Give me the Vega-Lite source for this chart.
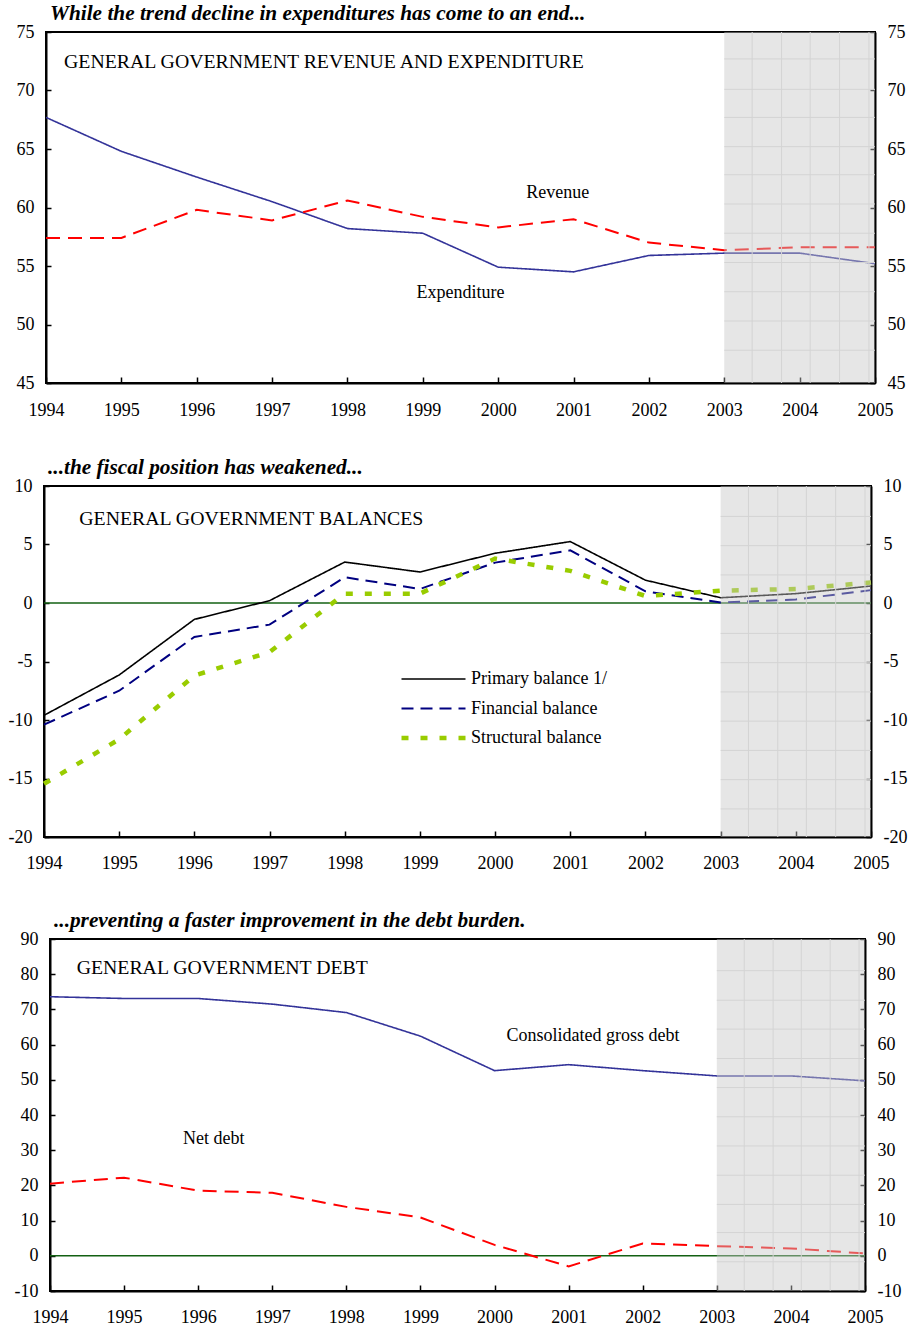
{
  "$schema": "https://vega.github.io/schema/vega-lite/v6.json",
  "padding": {"left": 7, "top": 1, "right": 3, "bottom": 0},
  "spacing": 35,
  "center": true,
  "resolve": {"scale": {"color": "independent", "strokeDash": "independent", "strokeWidth": "independent"}, "legend": {"color": "independent", "strokeDash": "independent", "strokeWidth": "independent"}},
  "config": {
    "font": "Liberation Serif",
    "view": {"stroke": "#000", "strokeWidth": 2},
    "axis": {"labelFont": "Liberation Serif", "labelFontSize": 18, "labelColor": "#000", "domainColor": "#000", "domainWidth": 2, "tickColor": "#000", "tickWidth": 1.5, "grid": false, "labelOverlap": false, "labelFlush": false, "labelExpr": "'' + datum.value"},
    "title": {"font": "Liberation Serif", "fontSize": 21.3, "fontStyle": "italic", "fontWeight": "bold", "color": "#000", "anchor": "start", "frame": "group", "dx": 4, "offset": -1},
    "text": {"font": "Liberation Serif", "fontSize": 18, "color": "#000"}
  },
  "datasets": {
    "one": [{}],
    "p1": [
      {"series": "Expenditure", "year": 1994, "value": 67.7},
      {"series": "Expenditure", "year": 1995, "value": 64.8},
      {"series": "Expenditure", "year": 1996, "value": 62.6},
      {"series": "Expenditure", "year": 1997, "value": 60.5},
      {"series": "Expenditure", "year": 1998, "value": 58.2},
      {"series": "Expenditure", "year": 1999, "value": 57.8},
      {"series": "Expenditure", "year": 2000, "value": 54.9},
      {"series": "Expenditure", "year": 2001, "value": 54.5},
      {"series": "Expenditure", "year": 2002, "value": 55.9},
      {"series": "Expenditure", "year": 2003, "value": 56.1},
      {"series": "Expenditure", "year": 2004, "value": 56.1},
      {"series": "Expenditure", "year": 2005, "value": 55.2},
      {"series": "Revenue", "year": 1994, "value": 57.4},
      {"series": "Revenue", "year": 1995, "value": 57.4},
      {"series": "Revenue", "year": 1996, "value": 59.8},
      {"series": "Revenue", "year": 1997, "value": 58.9},
      {"series": "Revenue", "year": 1998, "value": 60.6},
      {"series": "Revenue", "year": 1999, "value": 59.2},
      {"series": "Revenue", "year": 2000, "value": 58.3},
      {"series": "Revenue", "year": 2001, "value": 59.0},
      {"series": "Revenue", "year": 2002, "value": 57.0},
      {"series": "Revenue", "year": 2003, "value": 56.35},
      {"series": "Revenue", "year": 2004, "value": 56.6},
      {"series": "Revenue", "year": 2005, "value": 56.6}
    ],
    "p2": [
      {"series": "Primary balance 1/", "year": 1994, "value": -9.6},
      {"series": "Primary balance 1/", "year": 1995, "value": -6.15},
      {"series": "Primary balance 1/", "year": 1996, "value": -1.4},
      {"series": "Primary balance 1/", "year": 1997, "value": 0.2},
      {"series": "Primary balance 1/", "year": 1998, "value": 3.5},
      {"series": "Primary balance 1/", "year": 1999, "value": 2.65},
      {"series": "Primary balance 1/", "year": 2000, "value": 4.25},
      {"series": "Primary balance 1/", "year": 2001, "value": 5.25},
      {"series": "Primary balance 1/", "year": 2002, "value": 1.95},
      {"series": "Primary balance 1/", "year": 2003, "value": 0.45},
      {"series": "Primary balance 1/", "year": 2004, "value": 0.8},
      {"series": "Primary balance 1/", "year": 2005, "value": 1.45},
      {"series": "Financial balance", "year": 1994, "value": -10.4},
      {"series": "Financial balance", "year": 1995, "value": -7.5},
      {"series": "Financial balance", "year": 1996, "value": -2.9},
      {"series": "Financial balance", "year": 1997, "value": -1.85},
      {"series": "Financial balance", "year": 1998, "value": 2.2},
      {"series": "Financial balance", "year": 1999, "value": 1.2},
      {"series": "Financial balance", "year": 2000, "value": 3.45},
      {"series": "Financial balance", "year": 2001, "value": 4.5},
      {"series": "Financial balance", "year": 2002, "value": 1.0},
      {"series": "Financial balance", "year": 2003, "value": 0.05},
      {"series": "Financial balance", "year": 2004, "value": 0.3},
      {"series": "Financial balance", "year": 2005, "value": 1.1},
      {"series": "Structural balance", "year": 1994, "value": -15.45},
      {"series": "Structural balance", "year": 1995, "value": -11.65},
      {"series": "Structural balance", "year": 1996, "value": -6.2},
      {"series": "Structural balance", "year": 1997, "value": -4.2},
      {"series": "Structural balance", "year": 1998, "value": 0.8},
      {"series": "Structural balance", "year": 1999, "value": 0.8},
      {"series": "Structural balance", "year": 2000, "value": 3.8},
      {"series": "Structural balance", "year": 2001, "value": 2.75},
      {"series": "Structural balance", "year": 2002, "value": 0.6},
      {"series": "Structural balance", "year": 2003, "value": 1.05},
      {"series": "Structural balance", "year": 2004, "value": 1.2},
      {"series": "Structural balance", "year": 2005, "value": 1.75}
    ],
    "p3": [
      {"series": "Consolidated gross debt", "year": 1994, "value": 73.6},
      {"series": "Consolidated gross debt", "year": 1995, "value": 73.1},
      {"series": "Consolidated gross debt", "year": 1996, "value": 73.1},
      {"series": "Consolidated gross debt", "year": 1997, "value": 71.5},
      {"series": "Consolidated gross debt", "year": 1998, "value": 69.1},
      {"series": "Consolidated gross debt", "year": 1999, "value": 62.4},
      {"series": "Consolidated gross debt", "year": 2000, "value": 52.6},
      {"series": "Consolidated gross debt", "year": 2001, "value": 54.3},
      {"series": "Consolidated gross debt", "year": 2002, "value": 52.6},
      {"series": "Consolidated gross debt", "year": 2003, "value": 51.1},
      {"series": "Consolidated gross debt", "year": 2004, "value": 51.1},
      {"series": "Consolidated gross debt", "year": 2005, "value": 49.7},
      {"series": "Net debt", "year": 1994, "value": 20.5},
      {"series": "Net debt", "year": 1995, "value": 22.2},
      {"series": "Net debt", "year": 1996, "value": 18.5},
      {"series": "Net debt", "year": 1997, "value": 17.9},
      {"series": "Net debt", "year": 1998, "value": 13.9},
      {"series": "Net debt", "year": 1999, "value": 10.9},
      {"series": "Net debt", "year": 2000, "value": 3.1},
      {"series": "Net debt", "year": 2001, "value": -3.0},
      {"series": "Net debt", "year": 2002, "value": 3.5},
      {"series": "Net debt", "year": 2003, "value": 2.75},
      {"series": "Net debt", "year": 2004, "value": 2.1},
      {"series": "Net debt", "year": 2005, "value": 0.65}
    ],
    "g1": [{"v": 47.8}, {"v": 50.3}, {"v": 52.8}, {"v": 55.3}, {"v": 57.8}, {"v": 60.3}, {"v": 62.8}, {"v": 65.2}, {"v": 67.7}, {"v": 70.1}, {"v": 72.7}],
    "g2": [{"v": 7.4}, {"v": 4.9}, {"v": 2.4}, {"v": -2.6}, {"v": -5.1}, {"v": -7.6}, {"v": -10.1}, {"v": -12.6}, {"v": -15.1}, {"v": -17.6}],
    "g3": [{"v": -1.7}, {"v": 6.6}, {"v": 14.6}, {"v": 22.9}, {"v": 31.2}, {"v": 39.5}, {"v": 47.8}, {"v": 56.05}, {"v": 64.4}, {"v": 72.6}, {"v": 81}],
    "vg": [{"yr": 2003.37}, {"yr": 2003.76}, {"yr": 2004.14}, {"yr": 2004.53}, {"yr": 2004.92}]
  },
  "vconcat": [
    {
      "width": 829, "height": 351,
      "title": {"text": "While the trend decline in expenditures has come to an end..."},
      "resolve": {"scale": {"y": "shared"}, "axis": {"y": "independent"}},
      "layer": [
        {
          "data": {"name": "p1"},
          "mark": {"type": "line"},
          "encoding": {
            "x": {"field": "year", "type": "quantitative", "scale": {"domain": [1994, 2005], "nice": false, "zero": false}, "axis": {"title": null, "values": [1994,1995,1996,1997,1998,1999,2000,2001,2002,2003,2004,2005], "tickSize": -6, "labelPadding": 24}},
            "y": {"field": "value", "type": "quantitative", "scale": {"domain": [45, 75], "nice": false, "zero": false}, "axis": {"title": null, "orient": "left", "values": [45,50,55,60,65,70,75], "tickSize": -5, "labelPadding": 17}},
            "color": {"field": "series", "type": "nominal", "scale": {"domain": ["Expenditure", "Revenue"], "range": ["#333399", "#ff0000"]}, "legend": null},
            "strokeDash": {"field": "series", "type": "nominal", "scale": {"domain": ["Expenditure", "Revenue"], "range": [[1, 0], [14, 8]]}, "legend": null},
            "strokeWidth": {"field": "series", "type": "nominal", "scale": {"type": "ordinal", "domain": ["Expenditure", "Revenue"], "range": [1.6, 2]}, "legend": null}
          }
        },
        {
          "data": {"name": "one"},
          "mark": {"type": "text", "align": "left", "baseline": "middle", "fontSize": 19.8, "text": "GENERAL GOVERNMENT REVENUE AND EXPENDITURE"},
          "encoding": {"x": {"datum": 1994.24, "type": "quantitative"}, "y": {"datum": 72.44, "type": "quantitative", "axis": null}}
        },
        {
          "data": {"name": "one"},
          "mark": {"type": "text", "align": "center", "baseline": "middle", "text": "Revenue"},
          "encoding": {"x": {"datum": 2000.79, "type": "quantitative"}, "y": {"datum": 61.24, "type": "quantitative", "axis": null}}
        },
        {
          "data": {"name": "one"},
          "mark": {"type": "text", "align": "center", "baseline": "middle", "text": "Expenditure"},
          "encoding": {"x": {"datum": 1999.5, "type": "quantitative"}, "y": {"datum": 52.7, "type": "quantitative", "axis": null}}
        },
        {
          "data": {"name": "one"},
          "mark": {"type": "rect", "fill": "#c8c8c8", "opacity": 0.45},
          "encoding": {"x": {"datum": 2003, "type": "quantitative"}, "x2": {"datum": 2005}, "y": {"datum": 45, "type": "quantitative", "axis": null}, "y2": {"datum": 75}}
        },
        {
          "data": {"name": "g1"},
          "mark": {"type": "rule", "color": "#d4d4d4", "strokeWidth": 1},
          "encoding": {"x": {"datum": 2003, "type": "quantitative"}, "x2": {"datum": 2005}, "y": {"field": "v", "type": "quantitative", "axis": null}}
        },
        {
          "data": {"name": "vg"},
          "mark": {"type": "rule", "color": "#d4d4d4", "strokeWidth": 1},
          "encoding": {"x": {"field": "yr", "type": "quantitative"}, "y": {"datum": 45, "type": "quantitative", "axis": {"title": null, "orient": "right", "values": [45,50,55,60,65,70,75], "tickSize": -5, "labelPadding": 17}}, "y2": {"datum": 75}}
        }
      ]
    },
    {
      "width": 827, "height": 351,
      "title": {"text": "...the fiscal position has weakened..."},
      "resolve": {"scale": {"y": "shared"}, "axis": {"y": "independent"}},
      "layer": [
        {
          "data": {"name": "one"},
          "mark": {"type": "rule", "color": "#136013", "strokeWidth": 1.5},
          "encoding": {"y": {"datum": 0, "type": "quantitative", "axis": null}}
        },
        {
          "data": {"name": "p2"},
          "mark": {"type": "line"},
          "encoding": {
            "x": {"field": "year", "type": "quantitative", "scale": {"domain": [1994, 2005], "nice": false, "zero": false}, "axis": {"title": null, "values": [1994,1995,1996,1997,1998,1999,2000,2001,2002,2003,2004,2005], "tickSize": -6, "labelPadding": 23}},
            "y": {"field": "value", "type": "quantitative", "scale": {"domain": [-20, 10], "nice": false, "zero": false}, "axis": {"title": null, "orient": "left", "values": [-20,-15,-10,-5,0,5,10], "tickSize": -5, "labelPadding": 17}},
            "color": {"field": "series", "type": "nominal", "scale": {"domain": ["Primary balance 1/", "Financial balance", "Structural balance"], "range": ["#000000", "#000080", "#99cc00"]}, "legend": {"title": null, "orient": "none", "legendX": 355, "legendY": 183, "symbolType": "stroke", "symbolSize": 4096, "clipHeight": 20, "rowPadding": 9.5, "labelOffset": 3, "labelFontSize": 18, "labelFont": "Liberation Serif", "labelColor": "#000"}},
            "strokeDash": {"field": "series", "type": "nominal", "scale": {"domain": ["Primary balance 1/", "Financial balance", "Structural balance"], "range": [[1, 0], [12, 7], [7, 12]]}, "legend": {"title": null}},
            "strokeWidth": {"field": "series", "type": "nominal", "scale": {"type": "ordinal", "domain": ["Primary balance 1/", "Financial balance", "Structural balance"], "range": [1.6, 2, 4.5]}, "legend": {"title": null}}
          }
        },
        {
          "data": {"name": "one"},
          "mark": {"type": "text", "align": "left", "baseline": "middle", "fontSize": 19.8, "text": "GENERAL GOVERNMENT BALANCES"},
          "encoding": {"x": {"datum": 1994.47, "type": "quantitative"}, "y": {"datum": 7.18, "type": "quantitative", "axis": null}}
        },
        {
          "data": {"name": "one"},
          "mark": {"type": "rect", "fill": "#c8c8c8", "opacity": 0.45},
          "encoding": {"x": {"datum": 2003, "type": "quantitative"}, "x2": {"datum": 2005}, "y": {"datum": -20, "type": "quantitative", "axis": null}, "y2": {"datum": 10}}
        },
        {
          "data": {"name": "g2"},
          "mark": {"type": "rule", "color": "#d4d4d4", "strokeWidth": 1},
          "encoding": {"x": {"datum": 2003, "type": "quantitative"}, "x2": {"datum": 2005}, "y": {"field": "v", "type": "quantitative", "axis": null}}
        },
        {
          "data": {"name": "vg"},
          "mark": {"type": "rule", "color": "#d4d4d4", "strokeWidth": 1},
          "encoding": {"x": {"field": "yr", "type": "quantitative"}, "y": {"datum": -20, "type": "quantitative", "axis": {"title": null, "orient": "right", "values": [-20,-15,-10,-5,0,5,10], "tickSize": -5, "labelPadding": 17}}, "y2": {"datum": 10}}
        }
      ]
    },
    {
      "width": 815, "height": 352,
      "title": {"text": "...preventing a faster improvement in the debt burden."},
      "resolve": {"scale": {"y": "shared"}, "axis": {"y": "independent"}},
      "layer": [
        {
          "data": {"name": "one"},
          "mark": {"type": "rule", "color": "#136013", "strokeWidth": 1.5},
          "encoding": {"y": {"datum": 0, "type": "quantitative", "axis": null}}
        },
        {
          "data": {"name": "p3"},
          "mark": {"type": "line"},
          "encoding": {
            "x": {"field": "year", "type": "quantitative", "scale": {"domain": [1994, 2005], "nice": false, "zero": false}, "axis": {"title": null, "values": [1994,1995,1996,1997,1998,1999,2000,2001,2002,2003,2004,2005], "tickSize": -6, "labelPadding": 23}},
            "y": {"field": "value", "type": "quantitative", "scale": {"domain": [-10, 90], "nice": false, "zero": false}, "axis": {"title": null, "orient": "left", "values": [-10,0,10,20,30,40,50,60,70,80,90], "tickSize": -5, "labelPadding": 17}},
            "color": {"field": "series", "type": "nominal", "scale": {"domain": ["Consolidated gross debt", "Net debt"], "range": ["#333399", "#ff0000"]}, "legend": null},
            "strokeDash": {"field": "series", "type": "nominal", "scale": {"domain": ["Consolidated gross debt", "Net debt"], "range": [[1, 0], [14, 8]]}, "legend": null},
            "strokeWidth": {"field": "series", "type": "nominal", "scale": {"type": "ordinal", "domain": ["Consolidated gross debt", "Net debt"], "range": [1.6, 2]}, "legend": null}
          }
        },
        {
          "data": {"name": "one"},
          "mark": {"type": "text", "align": "left", "baseline": "middle", "fontSize": 19.8, "text": "GENERAL GOVERNMENT DEBT"},
          "encoding": {"x": {"datum": 1994.36, "type": "quantitative"}, "y": {"datum": 81.8, "type": "quantitative", "axis": null}}
        },
        {
          "data": {"name": "one"},
          "mark": {"type": "text", "align": "center", "baseline": "middle", "text": "Consolidated gross debt"},
          "encoding": {"x": {"datum": 2001.33, "type": "quantitative"}, "y": {"datum": 62.5, "type": "quantitative", "axis": null}}
        },
        {
          "data": {"name": "one"},
          "mark": {"type": "text", "align": "center", "baseline": "middle", "text": "Net debt"},
          "encoding": {"x": {"datum": 1996.21, "type": "quantitative"}, "y": {"datum": 33.2, "type": "quantitative", "axis": null}}
        },
        {
          "data": {"name": "one"},
          "mark": {"type": "rect", "fill": "#c8c8c8", "opacity": 0.45},
          "encoding": {"x": {"datum": 2003, "type": "quantitative"}, "x2": {"datum": 2005}, "y": {"datum": -10, "type": "quantitative", "axis": null}, "y2": {"datum": 90}}
        },
        {
          "data": {"name": "g3"},
          "mark": {"type": "rule", "color": "#d4d4d4", "strokeWidth": 1},
          "encoding": {"x": {"datum": 2003, "type": "quantitative"}, "x2": {"datum": 2005}, "y": {"field": "v", "type": "quantitative", "axis": null}}
        },
        {
          "data": {"name": "vg"},
          "mark": {"type": "rule", "color": "#d4d4d4", "strokeWidth": 1},
          "encoding": {"x": {"field": "yr", "type": "quantitative"}, "y": {"datum": -10, "type": "quantitative", "axis": {"title": null, "orient": "right", "values": [-10,0,10,20,30,40,50,60,70,80,90], "tickSize": -5, "labelPadding": 17}}, "y2": {"datum": 90}}
        }
      ]
    }
  ]
}
